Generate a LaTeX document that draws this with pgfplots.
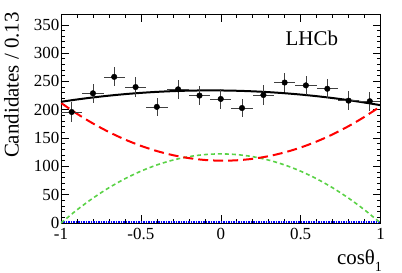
\documentclass[border=0pt]{standalone}
\usepackage{fontspec}
\setmainfont{Liberation Serif}
\usepackage{pgfplots}
\pgfplotsset{compat=1.18}
\definecolor{rootgreen}{RGB}{90,210,70}
\begin{document}
\begin{tikzpicture}
\useasboundingbox (-61bp,-50bp) rectangle (341bp,223bp);
\begin{axis}[
  at={(0,0)}, anchor=south west,
  scale only axis, width=319.5bp, height=209bp,
  xmin=-1, xmax=1, ymin=0, ymax=369,
  xtick={-1,-0.5,0,0.5,1},
  xticklabels={-1,-0.5,0,0.5,1},
  ytick={0,50,100,150,200,250,300,350},
  minor x tick num=4, minor y tick num=4,
  tick align=inside,
  major tick length=8bp, minor tick length=4bp,
  tick style={black, line width=0.5bp},
  axis line style={line width=0.7bp},
  /pgf/number format/assume math mode=true,
  ticklabel style={font=\fontsize{17}{17}\selectfont},
  yticklabel style={inner xsep=1.5bp},
  xticklabel style={inner ysep=5bp},
  xlabel={cosθ\raisebox{-0.3em}{\fontsize{14}{14}\selectfont 1}},
  xlabel style={font=\fontsize{21}{21}\selectfont, at={(axis description cs:1.005,-0.2)}, anchor=base east, inner sep=0pt},
  ylabel={Candidates / 0.13},
  ylabel style={font=\fontsize{21}{21}\selectfont, at={(axis description cs:-0.155,1.01)}, anchor=east, inner sep=0pt},
  clip=true,
]
% blue
\addplot[blue, line width=2.2bp, dash pattern=on 1.5bp off 1bp] coordinates {(-1,2) (1,2)};
% green
\addplot[rootgreen, line width=1.6bp, dash pattern=on 4bp off 3bp, smooth] coordinates {
(-1,0) (-0.9,23.18) (-0.8,43.92) (-0.7,62.22) (-0.6,78.08) (-0.5,91.5) (-0.4,102.48) (-0.3,111.02) (-0.2,117.12) (-0.1,120.78) (0,122) (0.1,120.78) (0.2,117.12) (0.3,111.02) (0.4,102.48) (0.5,91.5) (0.6,78.08) (0.7,62.22) (0.8,43.92) (0.9,23.18) (1,0)};
% red
\addplot[red, line width=2bp, dash pattern=on 10bp off 5bp, smooth] coordinates {
(-1,212) (-0.9,192.9) (-0.8,175.76) (-0.7,160.61) (-0.6,147.44) (-0.5,136.25) (-0.4,127.04) (-0.3,119.81) (-0.2,114.56) (-0.1,111.29) (0,110) (0.1,110.69) (0.2,113.36) (0.3,118.01) (0.4,124.64) (0.5,133.25) (0.6,143.84) (0.7,156.41) (0.8,170.96) (0.9,187.49) (1,206)};
% black total
\addplot[black, line width=2bp, smooth] coordinates {
(-1,214) (-0.9,218.07) (-0.8,221.68) (-0.7,224.83) (-0.6,227.52) (-0.5,229.75) (-0.4,231.52) (-0.3,232.83) (-0.2,233.68) (-0.1,234.07) (0,234) (0.1,233.47) (0.2,232.48) (0.3,231.03) (0.4,229.12) (0.5,226.75) (0.6,223.92) (0.7,220.63) (0.8,216.88) (0.9,212.67) (1,208)};
% data
\addplot[black, only marks, mark=*, mark size=2.8bp,
  error bars/.cd, x dir=both, x explicit, y dir=both, y explicit,
  error bar style={line width=0.6bp, black!75}, error mark=none]
  coordinates {
(-0.933,196) +- (0.0667,17)
(-0.8,229) +- (0.0667,17)
(-0.667,258) +- (0.0667,17)
(-0.533,240) +- (0.0667,17)
(-0.4,205) +- (0.0667,16)
(-0.267,236) +- (0.0667,17)
(-0.133,225) +- (0.0667,17)
(0,219) +- (0.0667,17)
(0.133,203) +- (0.0667,16)
(0.267,226) +- (0.0667,17)
(0.4,248) +- (0.0667,17)
(0.533,243) +- (0.0667,17)
(0.667,237) +- (0.0667,17)
(0.8,216) +- (0.0667,17)
(0.933,215) +- (0.0667,17)
};
\node[font=\fontsize{21}{21}\selectfont] at (axis cs:0.57,326) {LHCb};
\end{axis}
\end{tikzpicture}
\end{document}
